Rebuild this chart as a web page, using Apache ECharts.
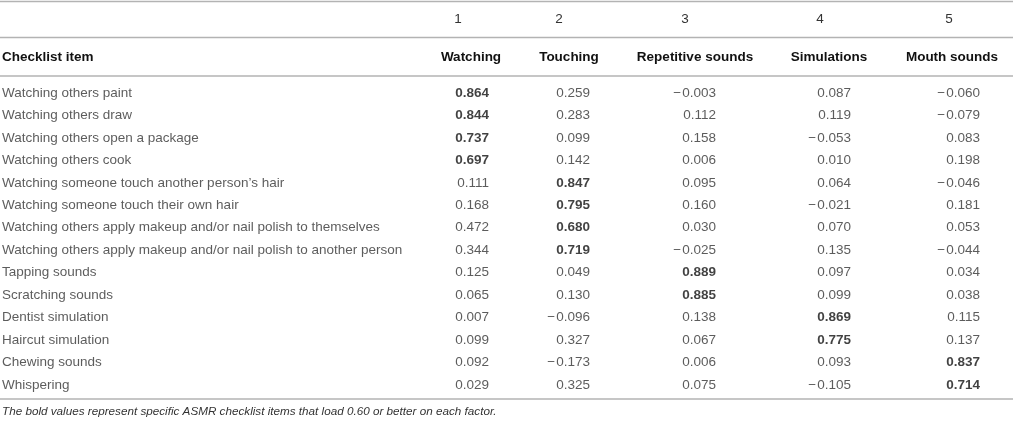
<!DOCTYPE html>
<html>
<head>
<meta charset="utf-8">
<script src="https://cdn.jsdelivr.net/npm/echarts@6/dist/echarts.min.js"></script>
<style>
html,body{margin:0;padding:0;background:#fff;}
#main{width:1013px;height:423px;}
</style>
</head>
<body>
<div id="main"></div>
<script>
var factorNumbers = ['1', '2', '3', '4', '5'];
var factorNames = ['Watching', 'Touching', 'Repetitive sounds', 'Simulations', 'Mouth sounds'];
var firstHeader = 'Checklist item';
var items = [
  'Watching others paint',
  'Watching others draw',
  'Watching others open a package',
  'Watching others cook',
  'Watching someone touch another person\u2019s hair',
  'Watching someone touch their own hair',
  'Watching others apply makeup and/or nail polish to themselves',
  'Watching others apply makeup and/or nail polish to another person',
  'Tapping sounds',
  'Scratching sounds',
  'Dentist simulation',
  'Haircut simulation',
  'Chewing sounds',
  'Whispering'
];
var watching    = [0.864, 0.844, 0.737, 0.697, 0.111, 0.168, 0.472, 0.344, 0.125, 0.065, 0.007, 0.099, 0.092, 0.029];
var touching    = [0.259, 0.283, 0.099, 0.142, 0.847, 0.795, 0.680, 0.719, 0.049, 0.130, -0.096, 0.327, -0.173, 0.325];
var repetitive  = [-0.003, 0.112, 0.158, 0.006, 0.095, 0.160, 0.030, -0.025, 0.889, 0.885, 0.138, 0.067, 0.006, 0.075];
var simulations = [0.087, 0.119, -0.053, 0.010, 0.064, -0.021, 0.070, 0.135, 0.097, 0.099, 0.869, 0.775, 0.093, -0.105];
var mouth       = [-0.060, -0.079, 0.083, 0.198, -0.046, 0.181, 0.053, -0.044, 0.034, 0.038, 0.115, 0.137, 0.837, 0.714];
var boldThreshold = 0.60;
var footnote = 'The bold values represent specific ASMR checklist items that load 0.60 or better on each factor.';

// layout (style only)
var W = 1013;
var FONT = '"Liberation Sans", Arial, Helvetica, sans-serif';
var FS = 13.5;
var textColor = '#333';
var boldColor = '#111';
var ruleColor = '#b3b3b3';
var valueRight = [489, 590, 716, 851, 980];
var nameCenter = [471, 569, 695, 829, 952];
var numCenter  = [458, 559, 685, 820, 949];
var rowsTop = 81.8, rowsHeight = 314.4;

var columns = [watching, touching, repetitive, simulations, mouth];

function fmt(v) {
  var s = Math.abs(v).toFixed(3);
  return v < 0 ? '\u2212\u200a' + s : s;
}

var chart = echarts.init(document.getElementById('main'), null, {renderer: 'canvas'});

var series = [];
// item names
series.push({
  type: 'scatter',
  symbolSize: 0,
  silent: true,
  data: items.map(function (n, i) { return {value: [2, i], name: n}; }),
  label: {
    show: true, position: 'right', distance: 0,
    formatter: function (p) { return p.name; },
    fontFamily: FONT, fontSize: FS, color: textColor
  }
});
columns.forEach(function (col, c) {
  series.push({
    type: 'scatter',
    symbolSize: 0,
    silent: true,
    data: col.map(function (v, i) {
      var bold = v >= boldThreshold;
      return {
        value: [valueRight[c], i, v],
        label: {fontWeight: bold ? 'bold' : 'normal', color: bold ? boldColor : textColor}
      };
    }),
    label: {
      show: true, position: 'left', distance: 0,
      formatter: function (p) { return fmt(p.value[2]); },
      fontFamily: FONT, fontSize: FS, color: textColor
    }
  });
});

var graphics = [];
function hline(y) {
  graphics.push({type: 'line', silent: true, shape: {x1: 0, y1: y, x2: W, y2: y},
    style: {stroke: ruleColor, lineWidth: 1.5}});
}
hline(1.5); hline(37.5); hline(76); hline(399);
factorNumbers.forEach(function (t, c) {
  graphics.push({type: 'text', x: numCenter[c], y: 19, silent: true,
    style: {text: t, fontFamily: FONT, fontSize: FS, fill: textColor, align: 'center', verticalAlign: 'middle'}});
});
graphics.push({type: 'text', x: 2, y: 57, silent: true,
  style: {text: firstHeader, fontFamily: FONT, fontSize: FS, fontWeight: 'bold', fill: boldColor, align: 'left', verticalAlign: 'middle'}});
factorNames.forEach(function (t, c) {
  graphics.push({type: 'text', x: nameCenter[c], y: 57, silent: true,
    style: {text: t, fontFamily: FONT, fontSize: FS, fontWeight: 'bold', fill: boldColor, align: 'center', verticalAlign: 'middle'}});
});
graphics.push({type: 'text', x: 2, y: 412, silent: true,
  style: {text: footnote, fontFamily: FONT, fontSize: 11.7, fontStyle: 'italic', fill: textColor, align: 'left', verticalAlign: 'middle'}});

chart.setOption({
  animation: false,
  grid: {left: 0, right: 0, top: rowsTop, height: rowsHeight},
  xAxis: {type: 'value', min: 0, max: W, show: false},
  yAxis: {type: 'category', inverse: true, data: items.map(function (n, i) { return i; }), show: false},
  series: series,
  graphic: graphics
});
</script>
</body>
</html>
